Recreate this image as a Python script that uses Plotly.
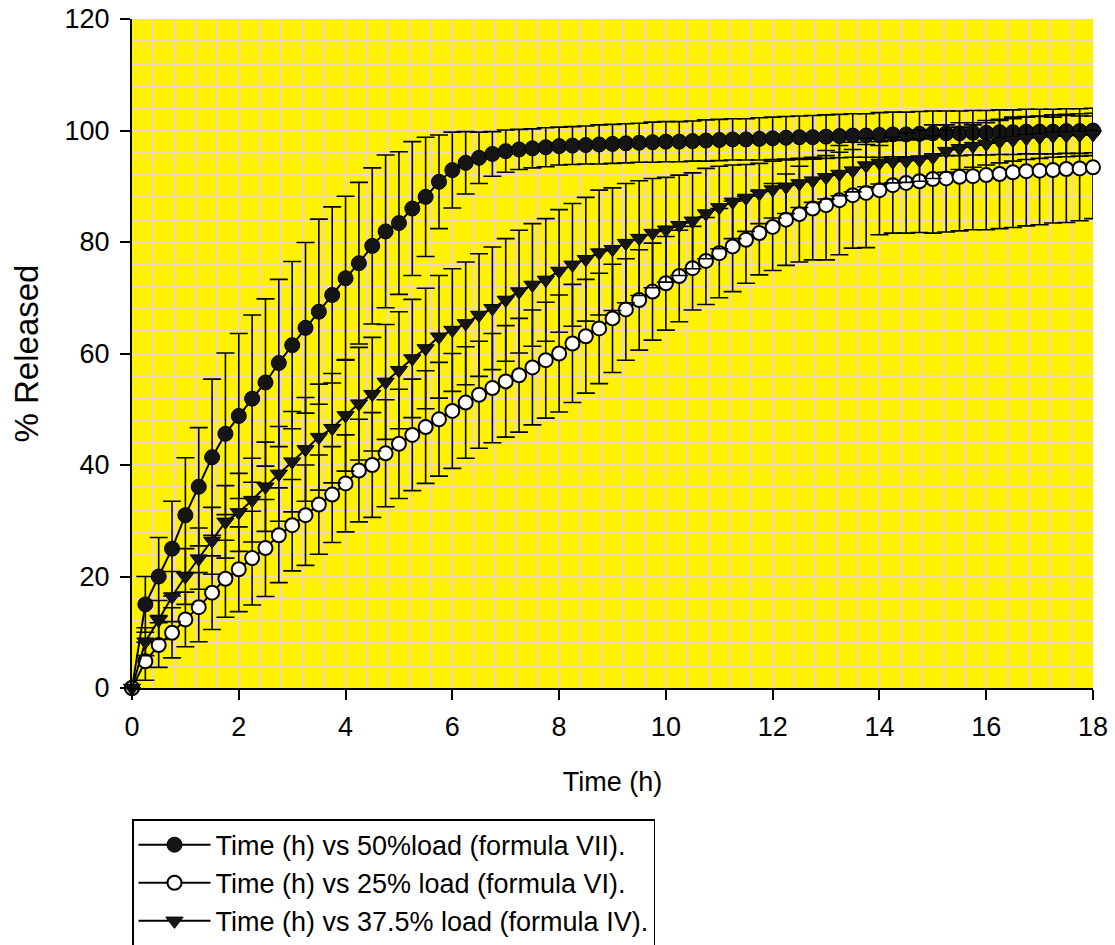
import plotly.graph_objects as go

# Time points (h)
time_h = [i * 0.25 for i in range(73)]

# 50% load (formula VII) - filled circles
load50 = [0, 15.0, 20.0, 25.0, 31.0, 36.1, 41.4, 45.6, 48.8, 51.9, 54.8, 58.3, 61.5,
          64.6, 67.5, 70.5, 73.5, 76.2, 79.3, 81.9, 83.4, 86.0, 88.1, 90.8, 92.9,
          94.2, 95.1, 95.8, 96.3, 96.6, 96.8, 97.0, 97.2, 97.3, 97.4, 97.5, 97.6,
          97.7, 97.8, 97.9, 98.0, 98.0, 98.1, 98.2, 98.3, 98.4, 98.4, 98.5, 98.6,
          98.7, 98.8, 98.8, 98.9, 99.0, 99.1, 99.1, 99.2, 99.3, 99.3, 99.4, 99.5,
          99.5, 99.5, 99.6, 99.6, 99.7, 99.7, 99.8, 99.8, 99.8, 99.9, 99.9, 100.0]
err50 = [0, 5.0, 7.0, 8.5, 10.3, 10.6, 14.0, 14.5, 14.8, 15.0, 15.0, 15.0, 15.0,
         15.3, 16.6, 15.8, 14.7, 14.5, 14.0, 13.7, 12.8, 12.0, 10.7, 8.4, 6.8,
         5.6, 4.6, 4.0, 3.8, 3.6, 3.5, 3.5, 3.4, 3.4, 3.4, 3.5, 3.5,
         3.5, 3.5, 3.6, 3.6, 3.6, 3.6, 3.7, 3.7, 3.7, 3.7, 3.8, 3.8,
         3.8, 3.8, 3.9, 3.9, 3.9, 3.9, 3.9, 4.0, 4.0, 4.0, 4.0, 4.0,
         4.0, 4.0, 4.0, 4.0, 4.0, 4.0, 4.0, 4.0, 4.0, 4.0, 4.0, 4.0]

# 25% load (formula VI) - open circles
load25 = [0, 4.8, 7.7, 9.9, 12.3, 14.5, 17.1, 19.6, 21.3, 23.3, 25.1, 27.4, 29.2,
          31.0, 32.9, 34.7, 36.7, 39.0, 40.0, 42.1, 43.8, 45.4, 46.8, 48.2, 49.7,
          51.2, 52.6, 53.8, 55.0, 56.1, 57.5, 58.8, 60.0, 61.8, 63.1, 64.5, 66.3,
          67.9, 69.6, 71.1, 72.6, 73.9, 75.3, 76.6, 78.0, 79.2, 80.4, 81.6, 82.7,
          84.0, 85.0, 86.0, 86.6, 87.5, 88.4, 88.8, 89.3, 90.2, 90.6, 90.9, 91.3,
          91.4, 91.7, 91.8, 92.0, 92.2, 92.5, 92.7, 92.8, 92.9, 93.1, 93.2, 93.4]
err25 = [0, 3.4, 4.0, 4.5, 4.9, 6.2, 6.6, 6.9, 7.6, 8.4, 8.7, 8.5, 8.2,
         9.0, 8.9, 8.6, 8.7, 9.2, 9.4, 9.6, 9.8, 10.0, 10.1, 10.2, 10.3,
         10.0, 9.6, 9.8, 10.0, 10.2, 10.3, 10.4, 10.5, 10.6, 10.2, 9.9, 9.7,
         9.1, 9.0, 8.7, 8.4, 8.2, 7.5, 7.8, 8.0, 8.1, 7.8, 7.5, 7.8,
         8.2, 8.6, 9.2, 9.8, 9.8, 9.5, 9.8, 8.0, 8.6, 9.0, 9.2, 9.7,
         9.6, 9.7, 9.6, 9.8, 9.8, 9.9, 9.8, 9.7, 9.5, 9.6, 9.4, 9.2]

# 37.5% load (formula IV) - filled down-triangles
load375 = [0, 8.3, 12.2, 16.4, 20.0, 23.2, 26.4, 29.8, 31.5, 33.7, 36.1, 38.4, 40.6,
           42.8, 45.0, 46.6, 48.9, 51.0, 52.7, 54.9, 57.0, 59.1, 60.9, 63.0, 64.2,
           65.4, 66.9, 68.1, 69.6, 71.1, 72.3, 73.2, 74.8, 75.9, 76.9, 78.1, 78.7,
           79.8, 80.7, 81.6, 82.2, 83.0, 83.8, 85.1, 86.2, 87.2, 87.9, 88.7, 89.4,
           89.9, 90.5, 91.0, 91.6, 92.2, 92.8, 93.7, 94.2, 94.4, 94.5, 94.7, 95.2,
           96.3, 96.8, 97.2, 97.6, 98.0, 98.3, 98.6, 98.8, 99.0, 99.1, 99.2, 99.3]
err375 = [0, 2.5, 3.5, 4.5, 5.0, 5.5, 6.0, 6.5, 7.0, 7.5, 8.0, 8.5, 9.0,
          9.3, 9.5, 9.8, 10.0, 10.1, 10.2, 10.3, 10.5, 10.6, 10.8, 11.0, 11.0,
          11.0, 11.0, 11.0, 11.0, 11.0, 11.0, 11.0, 11.0, 11.0, 11.1, 11.2, 11.0,
          10.7, 10.3, 9.8, 9.4, 9.0, 8.6, 8.1, 7.4, 6.6, 6.0, 5.4, 5.1,
          4.8, 4.3, 3.9, 3.9, 3.9, 3.8, 3.8, 3.8, 3.8, 3.8, 3.8, 3.8,
          3.8, 3.8, 3.8, 3.8, 3.8, 3.8, 3.8, 3.8, 3.8, 3.8, 3.8, 3.8]

names = ["Time (h) vs 50%load (formula VII).",
         "Time (h) vs 25% load (formula VI).",
         "Time (h) vs 37.5% load (formula IV)."]

x_ticks = [0, 2, 4, 6, 8, 10, 12, 14, 16, 18]
y_ticks = [0, 20, 40, 60, 80, 100, 120]

FONT = "Liberation Sans, Arial, Helvetica, sans-serif"
GRID = "#efd6bd"

def err(arr):
    return dict(type="data", array=arr, visible=True, color="black",
                thickness=1.6, width=9)

fig = go.Figure()
fig.add_trace(go.Scatter(
    x=time_h, y=load50, name=names[0], mode="lines+markers",
    line=dict(color="black", width=2),
    marker=dict(symbol="circle", size=15, color="#151515",
                line=dict(color="black", width=1)),
    error_y=err(err50), cliponaxis=False))
fig.add_trace(go.Scatter(
    x=time_h, y=load25, name=names[1], mode="lines+markers",
    line=dict(color="black", width=2),
    marker=dict(symbol="circle", size=14, color="white",
                line=dict(color="black", width=2)),
    error_y=err(err25), cliponaxis=False))
fig.add_trace(go.Scatter(
    x=time_h, y=load375, name=names[2], mode="lines+markers",
    line=dict(color="black", width=2),
    marker=dict(symbol="triangle-down", size=15, color="#151515",
                line=dict(color="black", width=1)),
    error_y=err(err375), cliponaxis=False))

fig.update_layout(
    width=1115, height=945,
    margin=dict(l=132, r=22, t=19, b=257, autoexpand=False),
    paper_bgcolor="white", plot_bgcolor="#fff200",
    font=dict(family=FONT, color="black", size=27),
    showlegend=True,
    legend=dict(x=0.0, y=-0.196, xanchor="left", yanchor="top",
                bgcolor="white", bordercolor="black", borderwidth=1.5,
                font=dict(family=FONT, size=27, color="black"),
                tracegroupgap=0, itemwidth=72),
    xaxis=dict(range=[0, 18], tickmode="array", tickvals=x_ticks,
               ticktext=[str(v) for v in x_ticks], automargin=False,
               ticklabeloverflow="allow",
               ticks="outside", ticklen=10, tickwidth=2, tickcolor="black",
               showline=True, linecolor="black", linewidth=2, zeroline=False,
               showgrid=True, gridcolor=GRID, gridwidth=1.5,
               minor=dict(dtick=0.4, tick0=0, showgrid=True, gridcolor=GRID,
                          gridwidth=1.5, ticks=""),
               tickfont=dict(size=27), ticklabelstandoff=4,
               title=dict(text="Time (h)", font=dict(size=27), standoff=31)),
    yaxis=dict(range=[0, 120], tickmode="array", tickvals=y_ticks,
               ticktext=[str(v) for v in y_ticks], automargin=False,
               ticklabeloverflow="allow",
               ticks="outside", ticklen=10, tickwidth=2, tickcolor="black",
               showline=True, linecolor="black", linewidth=2, zeroline=False,
               showgrid=True, gridcolor=GRID, gridwidth=1.5,
               minor=dict(dtick=4, tick0=0, showgrid=True, gridcolor=GRID,
                          gridwidth=1.5, ticks=""),
               tickfont=dict(size=27), ticklabelstandoff=5,
               title=dict(text="% Released", font=dict(size=33), standoff=16)),
)

# Remove the browser's default 8px body margin so the figure fills the window.
fig.write_html("out.html",
               config={"displayModeBar": False},
               post_script="document.body.style.margin='0';"
                           "document.body.style.overflow='hidden';")
